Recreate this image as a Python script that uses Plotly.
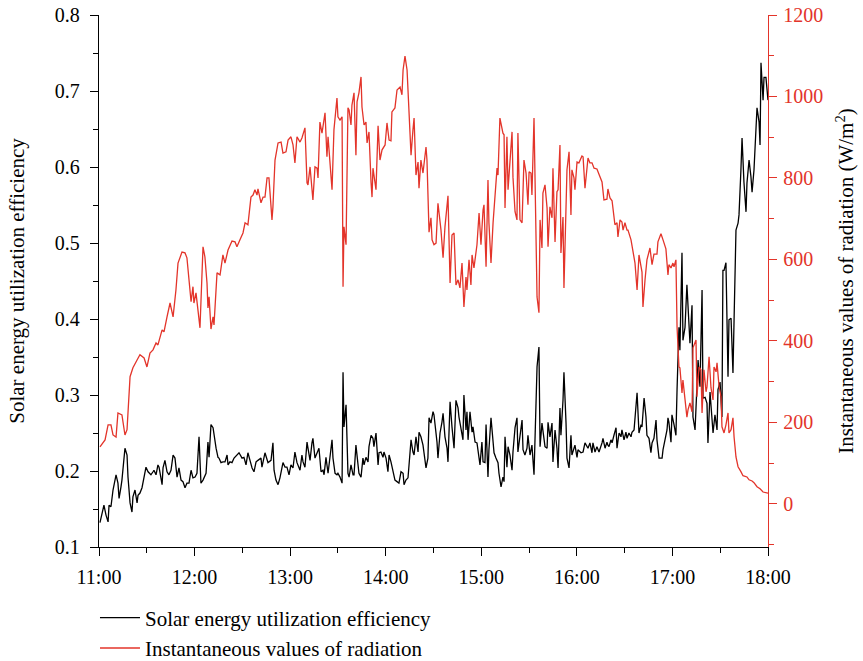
import pandas as pd
import plotly.graph_objects as go

# ---- data (minutes after 11:00) ----
rad_min = [0.6, 3.8, 5.7, 7.5, 8.8, 10.7, 11.9, 14.4, 16.3, 17.6, 19.5, 21.3, 23.9, 25.7, 28.3, 30.1, 32.0, 33.9, 35.8, 37.0,
           39.6, 40.8, 42.7, 44.6, 46.5, 48.3, 49.6, 52.1, 54.0, 55.2, 56.5, 57.8, 59.0, 59.6, 60.9, 62.2, 63.4, 65.3, 66.5, 67.8,
           68.4, 69.1, 70.3, 71.6, 72.2, 74.1, 76.0, 77.8, 79.1, 81.0, 83.5, 85.4, 86.6, 88.5, 90.4, 91.7, 93.5, 95.4, 96.7, 97.9,
           99.2, 99.8, 101.7, 103.0, 104.2, 105.5, 106.7, 108.6, 109.2, 110.5, 112.4, 114.3, 115.5, 117.4, 118.7, 120.5, 121.8, 123.0, 124.3, 126.2,
           127.4, 129.3, 130.6, 131.2, 132.5, 134.3, 135.6, 136.9, 137.5, 138.7, 140.0, 141.9, 143.1, 143.8, 146.3, 147.5, 149.4, 150.0, 151.3, 152.6,
           153.2, 153.8, 155.1, 156.3, 157.0, 158.2, 158.8, 160.1, 161.3, 162.0, 163.2, 164.5, 165.1, 166.4, 167.6, 168.3, 169.5, 170.8, 171.4, 172.0,
           173.9, 175.2, 176.4, 177.7, 179.6, 180.8, 182.1, 183.3, 183.9, 185.8, 187.1, 189.0, 190.2, 190.9, 192.1, 193.4, 194.6, 195.9, 197.1, 197.8,
           199.0, 200.3, 200.9, 202.1, 203.4, 205.3, 205.9, 207.2, 208.4, 209.1, 210.3, 211.6, 212.8, 214.7, 216.0, 217.2, 219.1, 220.4, 221.6, 222.9,
           224.1, 225.4, 226.6, 227.9, 229.1, 230.4, 231.0, 232.3, 233.5, 234.2, 235.4, 236.7, 237.3, 238.6, 239.8, 241.1, 241.7, 243.0, 244.2, 244.8,
           246.1, 247.4, 248.6, 249.9, 250.5, 251.7, 253.6, 254.3, 254.9, 256.1, 256.8, 258.0, 259.3, 259.9, 261.2, 262.4, 263.0, 264.3, 265.6, 266.8,
           268.1, 269.3, 270.0, 271.2, 271.8, 273.1, 274.3, 275.0, 276.2, 276.9, 278.1, 278.7, 280.0, 281.3, 281.9, 283.1, 284.4, 285.0, 286.3, 287.5,
           288.2, 289.4, 290.0, 291.3, 291.9, 293.2, 293.8, 295.1, 296.3, 296.9, 298.2, 298.8, 300.1, 301.3, 303.2, 303.9, 305.1, 307.0, 308.2, 309.5,
           310.8, 312.6, 313.9, 315.8, 317.0, 318.9, 319.5, 320.8, 322.1, 322.7, 323.9, 325.2, 325.8, 327.1, 328.3, 329.0, 330.2, 331.5, 332.1, 334.0,
           335.2, 336.5, 337.8, 339.0, 340.9, 341.5, 342.8, 344.0, 345.9, 347.2, 348.4, 350.3, 350.9, 352.8, 354.1, 355.9, 357.2, 357.8, 359.1, 360.3,
           361.0, 362.2, 362.9, 364.1, 364.7, 366.0, 366.6, 367.9, 369.1, 369.8, 371.0, 372.3, 372.9, 374.8, 375.4, 376.7, 377.9, 378.6, 379.8, 381.1,
           381.7, 383.0, 384.2, 385.5, 386.1, 387.4, 388.0, 389.3, 390.5, 391.1, 392.4, 393.6, 394.9, 395.5, 396.8, 398.0, 398.7, 399.9, 401.2, 403.0,
           404.3, 406.8, 408.1, 410.0, 411.2, 413.1, 415.0, 416.9, 419.4, 420.0]
radiation = [140, 157, 194, 194, 169, 164, 223, 218, 169, 182, 312, 334, 353, 366, 358, 336, 370, 378, 395, 390,
             427, 422, 459, 493, 459, 525, 591, 618, 616, 604, 550, 496, 533, 493, 518, 476, 432, 631, 606, 542,
             481, 508, 429, 459, 439, 567, 562, 611, 591, 623, 645, 643, 631, 648, 665, 690, 685, 753, 758, 771,
             758, 773, 739, 753, 753, 800, 800, 697, 729, 844, 886, 888, 861, 864, 893, 901, 881, 837, 901, 888,
             898, 923, 788, 783, 827, 746, 827, 824, 800, 937, 910, 960, 852, 901, 771, 918, 996, 950, 942, 950,
             533, 680, 636, 972, 967, 930, 979, 1009, 856, 987, 1009, 1048, 974, 930, 937, 886, 913, 788, 753, 824,
             771, 928, 844, 869, 881, 935, 893, 891, 962, 972, 1016, 1023, 1004, 1065, 1099, 1065, 950, 856, 918, 947,
             807, 839, 775, 844, 812, 876, 844, 667, 702, 648, 636, 640, 738, 672, 604, 680, 756, 542, 660, 665,
             537, 550, 530, 591, 483, 557, 525, 599, 537, 611, 579, 631, 636, 714, 636, 721, 734, 582, 795, 690,
             591, 690, 763, 824, 807, 947, 910, 906, 726, 901, 771, 837, 913, 802, 717, 697, 910, 697, 690, 844,
             812, 734, 815, 812, 758, 947, 690, 508, 469, 697, 628, 763, 783, 726, 631, 729, 702, 824, 643, 766,
             771, 881, 616, 704, 530, 729, 820, 864, 709, 820, 800, 771, 839, 837, 854, 852, 775, 849, 837, 837,
             824, 822, 807, 790, 746, 748, 773, 751, 744, 721, 685, 690, 655, 697, 692, 672, 690, 672, 672, 648,
             623, 591, 525, 611, 569, 483, 550, 599, 628, 587, 613, 613, 643, 663, 648, 626, 562, 587, 579, 591,
             582, 599, 434, 336, 334, 272, 304, 255, 213, 231, 248, 226, 383, 402, 263, 336, 329, 223, 329, 275,
             287, 361, 285, 255, 336, 324, 346, 287, 263, 189, 174, 194, 223, 174, 182, 211, 164, 115, 91, 79,
             69, 66, 59, 56, 52, 42, 37, 29, 27, 26]

eff_min = [0.6, 1.9, 3.1, 4.4, 5.7, 6.3, 7.5, 8.8, 10.7, 11.9, 12.6, 13.8, 14.4, 16.3, 17.6, 18.2, 19.5, 20.7, 21.3, 22.6,
           23.9, 24.5, 25.7, 27.0, 28.3, 29.5, 30.8, 32.6, 33.9, 34.5, 35.8, 37.0, 37.7, 39.6, 40.2, 41.4, 42.7, 43.9, 45.2, 46.5,
           47.7, 49.0, 50.2, 51.5, 52.7, 54.0, 55.2, 56.5, 57.8, 59.0, 60.3, 61.5, 62.8, 64.0, 65.3, 67.2, 68.4, 69.1, 70.3, 71.6,
           73.5, 74.7, 75.3, 76.6, 77.8, 79.1, 80.4, 81.0, 82.2, 83.5, 84.8, 86.6, 87.9, 89.8, 91.0, 92.3, 93.5, 94.8, 96.1, 97.3,
           98.6, 99.8, 101.7, 102.3, 104.2, 106.1, 108.0, 109.2, 109.9, 111.1, 112.4, 113.6, 115.5, 116.8, 118.0, 119.3, 120.5, 121.8, 123.0, 124.3,
           124.9, 126.2, 127.4, 128.1, 129.3, 130.6, 131.2, 132.5, 133.7, 134.3, 135.6, 136.9, 138.1, 139.4, 140.6, 141.3, 142.5, 143.8, 144.4, 146.3,
           146.9, 148.2, 149.4, 150.0, 151.3, 152.6, 153.2, 153.8, 155.1, 156.3, 157.0, 158.2, 159.5, 160.1, 161.3, 162.6, 163.2, 164.5, 165.7, 166.4,
           167.6, 168.9, 169.5, 170.8, 172.0, 172.6, 173.9, 175.2, 175.8, 177.0, 178.3, 178.9, 180.2, 181.4, 182.1, 183.3, 184.6, 185.8, 187.1, 188.3,
           189.6, 190.9, 191.5, 192.7, 194.0, 194.6, 195.9, 197.1, 197.8, 199.0, 200.3, 200.9, 202.1, 203.4, 204.0, 205.3, 206.5, 207.2, 208.4, 209.7,
           210.3, 211.0, 212.2, 212.8, 214.1, 215.3, 216.0, 217.2, 218.5, 219.1, 220.4, 221.6, 222.9, 224.1, 225.4, 226.0, 227.3, 228.5, 229.1, 230.4,
           231.0, 231.7, 232.9, 234.2, 234.8, 236.1, 237.3, 237.9, 239.2, 240.4, 241.1, 242.3, 243.0, 244.2, 244.8, 246.1, 247.4, 248.0, 249.2, 250.5,
           251.1, 252.4, 253.6, 254.3, 254.9, 256.1, 256.8, 258.0, 259.3, 259.9, 261.2, 262.4, 263.0, 264.3, 265.6, 266.2, 267.4, 268.7, 269.3, 270.6,
           271.8, 273.1, 274.3, 275.0, 276.2, 276.9, 278.1, 278.7, 280.0, 281.3, 281.9, 283.1, 284.4, 285.0, 286.3, 287.5, 288.2, 289.4, 290.0, 291.3,
           291.9, 293.2, 293.8, 295.1, 296.3, 296.9, 298.2, 298.8, 300.1, 300.7, 302.6, 303.9, 305.1, 307.0, 308.2, 309.5, 310.1, 311.4, 312.6, 313.9,
           315.8, 316.4, 317.7, 318.9, 319.5, 320.2, 321.4, 322.1, 323.3, 324.6, 325.2, 326.5, 327.7, 328.3, 329.6, 330.8, 331.5, 332.7, 334.0, 334.6,
           335.9, 337.1, 337.8, 339.0, 340.3, 340.9, 342.2, 343.4, 344.0, 345.3, 346.5, 347.2, 348.4, 349.7, 350.3, 351.6, 353.5, 354.1, 355.3, 356.6,
           357.2, 357.8, 359.1, 359.7, 361.0, 362.2, 362.9, 364.1, 364.7, 366.0, 366.6, 367.9, 369.1, 369.8, 371.0, 372.3, 372.9, 374.2, 375.4, 376.1,
           377.3, 378.6, 379.2, 380.5, 381.7, 382.3, 383.6, 384.9, 385.5, 386.7, 388.0, 388.6, 389.9, 391.1, 391.7, 392.4, 393.6, 394.9, 395.5, 396.8,
           398.0, 398.7, 399.9, 401.2, 401.8, 403.0, 403.7, 404.9, 406.2, 406.8, 408.1, 409.3, 410.0, 411.2, 412.5, 413.1, 414.4, 415.0, 415.6, 416.9,
           417.5, 418.7, 420.0]
efficiency = [0.132, 0.145, 0.155, 0.142, 0.133, 0.155, 0.153, 0.175, 0.195, 0.184, 0.164, 0.179, 0.188, 0.230, 0.221, 0.192, 0.158, 0.146, 0.166, 0.175,
              0.158, 0.168, 0.171, 0.178, 0.192, 0.205, 0.199, 0.195, 0.199, 0.201, 0.195, 0.208, 0.205, 0.182, 0.204, 0.214, 0.199, 0.195, 0.201, 0.221,
              0.217, 0.192, 0.204, 0.188, 0.186, 0.178, 0.184, 0.184, 0.201, 0.191, 0.192, 0.197, 0.245, 0.184, 0.188, 0.197, 0.238, 0.218, 0.261, 0.257,
              0.230, 0.218, 0.217, 0.211, 0.212, 0.212, 0.221, 0.208, 0.212, 0.211, 0.217, 0.221, 0.224, 0.217, 0.218, 0.208, 0.224, 0.214, 0.204, 0.199,
              0.212, 0.214, 0.217, 0.205, 0.224, 0.211, 0.214, 0.237, 0.201, 0.188, 0.182, 0.191, 0.211, 0.205, 0.205, 0.195, 0.208, 0.204, 0.225, 0.211,
              0.208, 0.201, 0.221, 0.212, 0.205, 0.238, 0.230, 0.214, 0.237, 0.243, 0.217, 0.225, 0.230, 0.199, 0.201, 0.195, 0.218, 0.197, 0.208, 0.241,
              0.217, 0.197, 0.195, 0.197, 0.192, 0.184, 0.330, 0.258, 0.287, 0.197, 0.192, 0.208, 0.195, 0.195, 0.234, 0.205, 0.197, 0.192, 0.217, 0.208,
              0.218, 0.212, 0.232, 0.247, 0.243, 0.232, 0.250, 0.208, 0.224, 0.225, 0.218, 0.225, 0.217, 0.199, 0.221, 0.212, 0.197, 0.188, 0.186, 0.184,
              0.199, 0.197, 0.182, 0.188, 0.191, 0.211, 0.241, 0.225, 0.221, 0.245, 0.225, 0.251, 0.245, 0.234, 0.224, 0.204, 0.217, 0.270, 0.263, 0.278,
              0.274, 0.262, 0.238, 0.217, 0.250, 0.264, 0.276, 0.245, 0.230, 0.212, 0.291, 0.258, 0.230, 0.293, 0.283, 0.271, 0.257, 0.241, 0.300, 0.254,
              0.278, 0.241, 0.278, 0.251, 0.258, 0.238, 0.237, 0.228, 0.208, 0.238, 0.212, 0.211, 0.261, 0.192, 0.228, 0.270, 0.237, 0.224, 0.217, 0.211,
              0.197, 0.179, 0.192, 0.186, 0.245, 0.205, 0.232, 0.221, 0.201, 0.225, 0.257, 0.270, 0.225, 0.245, 0.267, 0.228, 0.221, 0.230, 0.247, 0.221,
              0.234, 0.195, 0.293, 0.337, 0.363, 0.232, 0.263, 0.250, 0.232, 0.230, 0.264, 0.245, 0.263, 0.212, 0.254, 0.230, 0.204, 0.283, 0.247, 0.293,
              0.330, 0.263, 0.217, 0.204, 0.247, 0.221, 0.232, 0.234, 0.218, 0.228, 0.224, 0.225, 0.237, 0.230, 0.237, 0.224, 0.237, 0.225, 0.232, 0.225,
              0.237, 0.243, 0.230, 0.238, 0.234, 0.232, 0.241, 0.237, 0.247, 0.257, 0.230, 0.250, 0.245, 0.254, 0.241, 0.251, 0.243, 0.250, 0.245, 0.251,
              0.254, 0.280, 0.303, 0.250, 0.261, 0.258, 0.296, 0.271, 0.247, 0.243, 0.224, 0.237, 0.243, 0.267, 0.241, 0.217, 0.217, 0.228, 0.243, 0.254,
              0.270, 0.264, 0.238, 0.274, 0.261, 0.247, 0.307, 0.389, 0.359, 0.487, 0.372, 0.389, 0.445, 0.421, 0.368, 0.418, 0.271, 0.254, 0.307, 0.346,
              0.311, 0.438, 0.296, 0.297, 0.289, 0.237, 0.304, 0.271, 0.250, 0.274, 0.254, 0.307, 0.317, 0.271, 0.464, 0.464, 0.474, 0.324, 0.399, 0.401,
              0.329, 0.399, 0.517, 0.526, 0.537, 0.596, 0.638, 0.580, 0.541, 0.579, 0.609, 0.587, 0.567, 0.596, 0.646, 0.678, 0.659, 0.629, 0.737, 0.688,
              0.718, 0.718, 0.688]

x_tick_labels = ["11:00", "12:00", "13:00", "14:00", "15:00", "16:00", "17:00", "18:00"]
series_names = ["Solar energy utilization efficiency", "Instantaneous values of radiation"]

start = pd.Timestamp("2020-01-01 11:00")
eff_t = [start + pd.Timedelta(minutes=m) for m in eff_min]
rad_t = [start + pd.Timedelta(minutes=m) for m in rad_min]

RED = "#e3342a"
FONT = "Liberation Serif"

fig = go.Figure()
fig.add_trace(go.Scatter(x=eff_t, y=efficiency, mode="lines", name=series_names[0],
                         line=dict(color="black", width=1.3)))
fig.add_trace(go.Scatter(x=rad_t, y=radiation, mode="lines", name=series_names[1], yaxis="y2",
                         line=dict(color=RED, width=1.3)))

fig.update_layout(
    width=863, height=661,
    margin=dict(l=99, r=95, t=15, b=114, autoexpand=False),
    paper_bgcolor="white", plot_bgcolor="white",
    font=dict(family=FONT, size=20, color="black"),
    showlegend=True,
    legend=dict(x=-0.006, y=-0.095, xanchor="left", yanchor="top", orientation="v",
                font=dict(family=FONT, size=21, color="black"), bgcolor="rgba(0,0,0,0)",
                itemwidth=40, tracegroupgap=0),
    xaxis=dict(type="date", range=[start, start + pd.Timedelta(minutes=420)], automargin=False,
               tickvals=[start + pd.Timedelta(hours=i) for i in range(8)], ticktext=x_tick_labels,
               showgrid=False, zeroline=False, showline=True, linecolor="black", linewidth=1.3,
               ticks="outside", ticklen=8, tickwidth=1.3, tickcolor="black", ticklabelstandoff=4,
               minor=dict(tickvals=[start + pd.Timedelta(minutes=30 + 60 * i) for i in range(7)],
                          ticks="outside", ticklen=5, tickwidth=1.3, tickcolor="black"),
               tickfont=dict(size=20)),
    yaxis=dict(range=[0.1, 0.8], dtick=0.1, tick0=0.1, tickformat=".1f", automargin=False,
               showgrid=False, zeroline=False, showline=True, linecolor="black", linewidth=1.3,
               ticks="outside", ticklen=8, tickwidth=1.3, tickcolor="black", ticklabelstandoff=6,
               minor=dict(dtick=0.05, ticks="outside", ticklen=5, tickwidth=1.3, tickcolor="black"),
               title=dict(text="Solar energy utilization efficiency", font=dict(size=21), standoff=24),
               tickfont=dict(size=20)),
    yaxis2=dict(overlaying="y", side="right", range=[-106, 1200], dtick=200, tick0=0, automargin=False,
                showgrid=False, zeroline=False, showline=True, linecolor=RED, linewidth=1.3,
                ticks="outside", ticklen=8, tickwidth=1.3, tickcolor=RED, ticklabelstandoff=2,
                minor=dict(dtick=100, ticks="outside", ticklen=5, tickwidth=1.3, tickcolor=RED),
                tickfont=dict(size=20, color=RED),
                title=dict(text="Instantaneous values of radiation (W/m<sup>2</sup>)",
                           font=dict(size=21, color="black"), standoff=16)),
)

fig.write_html("out.html")
